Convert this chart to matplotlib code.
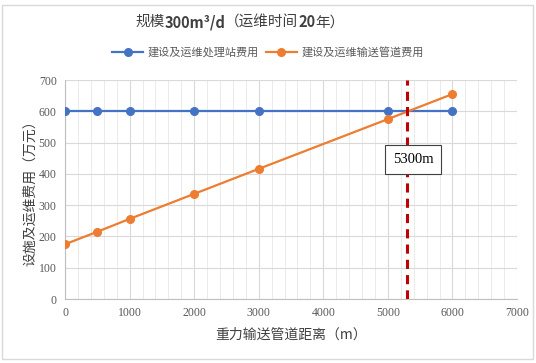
import matplotlib
matplotlib.use("Agg")
import matplotlib.pyplot as plt
from matplotlib.patches import Rectangle
from matplotlib.ticker import MultipleLocator

distance = [0, 500, 1000, 2000, 3000, 5000, 6000]
station_cost = [600, 600, 600, 600, 600, 600, 600]
pipe_cost = [175, 215, 256, 336, 416, 575, 655]
cross_x = 5300
series_names = ["建设及运维处理站费用", "建设及运维输送管道费用"]
title_parts = [("规模", "normal"), ("300m³/d", "bold"), ("（运维时间", "normal"),
               ("20", "bold"), ("年）", "normal")]
xlabel = "重力输送管道距离（m）"
ylabel = "设施及运维费用（万元）"

cjk = ["Noto Sans CJK SC", "DejaVu Sans"]
serif = ["Liberation Serif", "DejaVu Serif"]

fig = plt.figure(figsize=(5.36, 3.63), dpi=100)
fig.patch.set_facecolor("white")
fig.patches.append(Rectangle((0.004, 0.012), 0.99, 0.975, transform=fig.transFigure,
                             fill=False, edgecolor="#d9d9d9", linewidth=1.0))

ax = fig.add_axes([0.1213, 0.1763, 0.8433, 0.6033])
ax.set_xlim(0, 7000)
ax.set_ylim(0, 700)
ax.xaxis.set_major_locator(MultipleLocator(1000))
ax.xaxis.set_minor_locator(MultipleLocator(200))
ax.yaxis.set_major_locator(MultipleLocator(100))
ax.grid(which="major", color="#d9d9d9", linewidth=0.8)
ax.grid(which="minor", axis="x", color="#e8e8e8", linewidth=0.6)
ax.set_axisbelow(True)
for s in ["top", "right"]:
    ax.spines[s].set_visible(False)
for s in ["left", "bottom"]:
    ax.spines[s].set_color("#bfbfbf")
    ax.spines[s].set_linewidth(0.8)
ax.tick_params(which="both", length=0, pad=6, colors="#595959")
for lab in ax.get_xticklabels() + ax.get_yticklabels():
    lab.set_family(serif)
    lab.set_fontsize(8.5)

l1, = ax.plot(distance, station_cost, color="#4472C4", linewidth=1.6, marker="o",
              markersize=5.5, label=series_names[0], zorder=3)
l2, = ax.plot(distance, pipe_cost, color="#ED7D31", linewidth=1.6, marker="o",
              markersize=5.5, label=series_names[1], zorder=3)
ax.axvline(cross_x, color="#C00000", linewidth=2.2, linestyle=(0, (3, 2)), zorder=4)
ax.text(cross_x + 90, 445, "5300m", family=serif, fontsize=10.5, ha="center", va="center",
        color="black", zorder=5,
        bbox=dict(boxstyle="square,pad=0.55", facecolor="white", edgecolor="#404040", linewidth=0.8))

ax.set_xlabel(xlabel, family=cjk, fontsize=10, color="#404040", labelpad=6)
ax.set_ylabel(ylabel, family=cjk, fontsize=10, color="#404040", labelpad=1)

# Title with mixed weights, laid out piece by piece
renderer = fig.canvas.get_renderer()
texts = []
for s, w in title_parts:
    t = fig.text(0, 0.939, s, family=cjk, fontsize=10.5, fontweight=w,
                 ha="left", va="center", color="#404040")
    texts.append(t)
widths = [t.get_window_extent(renderer).width for t in texts]
total = sum(widths)
x0 = 240 - total / 2
for t, w in zip(texts, widths):
    t.set_x(x0 / fig.bbox.width)
    x0 += w

fig.legend(handles=[l1, l2], loc="center", bbox_to_anchor=(0.5, 0.855), ncol=2,
           frameon=False, prop={"family": cjk, "size": 8}, handlelength=2.8,
           columnspacing=0.6, handletextpad=0.4, labelcolor="#595959")

fig.savefig("out.png", dpi=100, facecolor="white")
